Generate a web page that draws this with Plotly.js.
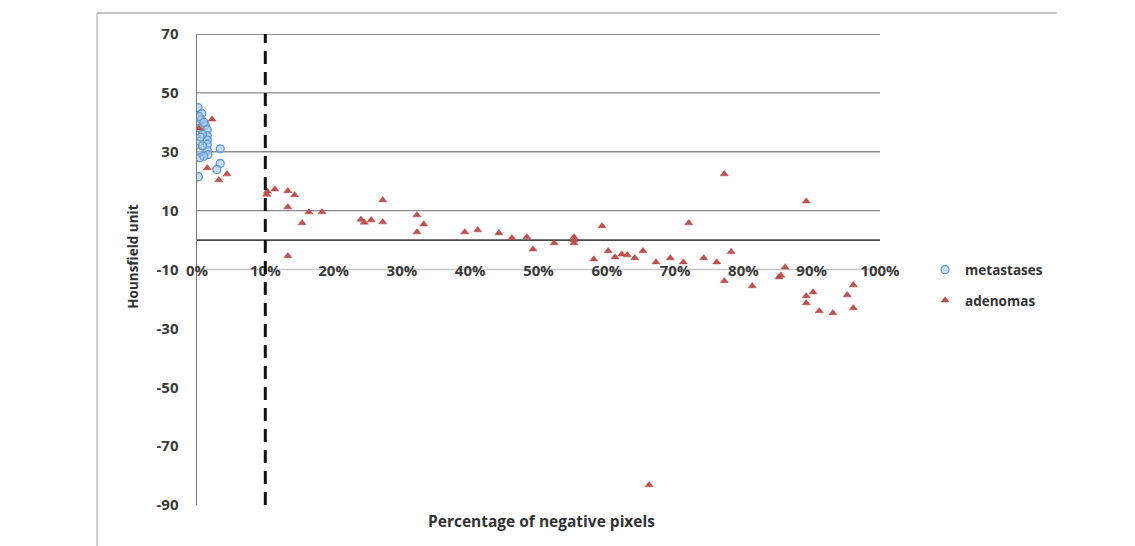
<!DOCTYPE html>
<html>
<head>
<meta charset="utf-8">
<script src="https://cdn.plot.ly/plotly-3.0.1.min.js"></script>
<style>html,body{margin:0;padding:0;background:#fff;}#chart{width:1135px;height:546px;}</style>
</head>
<body>
<div id="chart"></div>
<script>
// Data
const metX = [0.15, 0.7, 0.6, 1.2, 0.4, 1.5, 1.5, 0.4, 1.5, 1.5, 1.5, 0.4, 1.6, 0.4, 3.4, 3.4, 2.9, 0.2, 0.8, 0.8, 1.0, 0.5, 1.0, 0.3];
const metY = [45, 43, 41, 39, 38, 37.5, 35.5, 33.5, 34, 32.5, 30.5, 30, 29, 28, 31, 26, 24, 21.5, 36, 32, 40, 35, 28.5, 42];

const adeX = [0.3, 2.2, 1.5, 3.2, 4.4, 10.2, 10.3, 11.4, 13.3, 14.3, 13.3, 15.4, 16.4, 18.3, 13.3,
  24.0, 24.5, 25.5, 27.2, 27.2, 32.2, 33.2, 32.2, 39.2, 41.1, 44.2, 46.1, 48.3, 49.2,
  52.3, 55.2, 55.2, 55.2, 59.3, 58.1, 60.2, 61.2, 62.2, 63.0, 64.1, 65.3, 67.2, 69.3, 71.2,
  72.0, 74.2, 76.1, 77.2, 78.2, 77.2, 81.3, 85.2, 85.5, 86.1, 89.2, 89.2, 90.2, 89.2, 91.1,
  93.1, 95.2, 96.1, 96.1, 66.2];
const adeY = [38, 41, 24.5, 20.4, 22.4, 15.5, 16.5, 17.3, 16.7, 15.3, 11.2, 5.8, 9.5, 9.5, -5.4,
  7, 6, 6.8, 13.6, 6.1, 8.5, 5.4, 2.7, 2.7, 3.4, 2.4, 0.7, 1, -3.1,
  -1, 1, -1, 0, 4.8, -6.5, -3.7, -5.8, -4.8, -5.1, -6.1, -3.7, -7.5, -6.1, -7.5,
  5.8, -6.1, -7.5, -13.9, -4, 22.4, -15.6, -12.6, -12, -9.2, 13.2, -19, -17.7, -21.4, -24.1,
  -24.8, -18.7, -15.3, -23.1, -83.2];

const xTicks = [0, 10, 20, 30, 40, 50, 60, 70, 80, 90, 100];
const yTicks = [70, 50, 30, 10, -10, -30, -50, -70, -90];
const gridValues = [50, 30, 10, -10];
const cutoffX = 10;

const fontFam = '"Open Sans", "DejaVu Sans", sans-serif';
const tickFont = {family: fontFam, size: 15, color: '#3a3a3a', weight: 'bold'};

const traces = [
  {
    x: metX, y: metY, type: 'scatter', mode: 'markers', name: 'metastases', legendgroup: 'a',
    marker: {symbol: 'circle', size: 8, color: 'rgba(160,200,235,0.6)', line: {color: '#5f97d0', width: 1.3}}
  },
  {
    x: adeX, y: adeY, type: 'scatter', mode: 'markers', name: 'adenomas', legendgroup: 'b',
    marker: {symbol: 'triangle-up', size: 7, color: '#c0504d', line: {color: '#b04542', width: 0.5}}
  }
];

const shapes = [];
gridValues.forEach(v => shapes.push({type: 'line', xref: 'x', yref: 'y', x0: 0, x1: 100, y0: v, y1: v,
  line: {color: v === -10 ? '#c8c8c8' : '#8a8a8a', width: 1.3}, layer: 'below'}));
shapes.push({type: 'line', xref: 'x', yref: 'y', x0: 0, x1: 100, y0: 70, y1: 70, line: {color: '#6a6a6a', width: 1.5}, layer: 'below'});
shapes.push({type: 'line', xref: 'x', yref: 'y', x0: 0, x1: 100, y0: 0, y1: 0, line: {color: '#4a4a4a', width: 1.8}, layer: 'below'});
shapes.push({type: 'line', xref: 'x', yref: 'y', x0: cutoffX, x1: cutoffX, y0: -90, y1: 70, line: {color: '#111', width: 3, dash: '13px,8px'}});
// outer chart frame (top & left)
shapes.push({type: 'line', xref: 'paper', yref: 'paper', x0: -0.1464, x1: 1.259, y0: 1.0446, y1: 1.0446, line: {color: '#c4c4c4', width: 2}});
shapes.push({type: 'line', xref: 'paper', yref: 'paper', x0: -0.1464, x1: -0.1464, y0: 1.0446, y1: -0.1, line: {color: '#d0d0d0', width: 2}});

const layout = {
  width: 1135, height: 546,
  margin: {l: 197, r: 255, t: 34, b: 41, pad: 0},
  paper_bgcolor: '#fff', plot_bgcolor: '#fff',
  showlegend: true,
  legend: {x: 1.066, y: 0.532, xanchor: 'left', yanchor: 'top', traceorder: 'grouped', tracegroupgap: 10,
    font: {family: fontFam, size: 13.5, color: '#333', weight: 'bold'}, itemwidth: 30, bgcolor: 'rgba(0,0,0,0)'},
  xaxis: {
    range: [0, 100], tickvals: xTicks, ticktext: xTicks.map(v => v + '%'),
    anchor: 'free', position: 0.5, showline: false, showgrid: false, zeroline: false, ticks: '',
    tickfont: tickFont, ticklabelstandoff: -10
  },
  yaxis: {
    range: [-90, 70], tickvals: yTicks, ticktext: yTicks.map(v => String(v)), showgrid: false, zeroline: false,
    showline: true, linecolor: '#7a7a7a', linewidth: 1.5, ticks: '', ticklabelstandoff: 14,
    tickfont: tickFont
  },
  shapes: shapes,
  annotations: [{
    text: 'Percentage of negative pixels', xref: 'paper', yref: 'paper', x: 0.505, y: -0.034,
    xanchor: 'center', yanchor: 'middle', showarrow: false,
    font: {family: fontFam, size: 15.5, color: '#333', weight: 'bold'}
  }, {
    text: 'Hounsfield unit', xref: 'paper', yref: 'paper', x: -0.0937, y: 0.527, textangle: -90,
    xanchor: 'center', yanchor: 'middle', showarrow: false,
    font: {family: fontFam, size: 13.5, color: '#333', weight: 'bold'}
  }]
};

Plotly.newPlot('chart', traces, layout, {displayModeBar: false, staticPlot: true});
</script>
</body>
</html>
